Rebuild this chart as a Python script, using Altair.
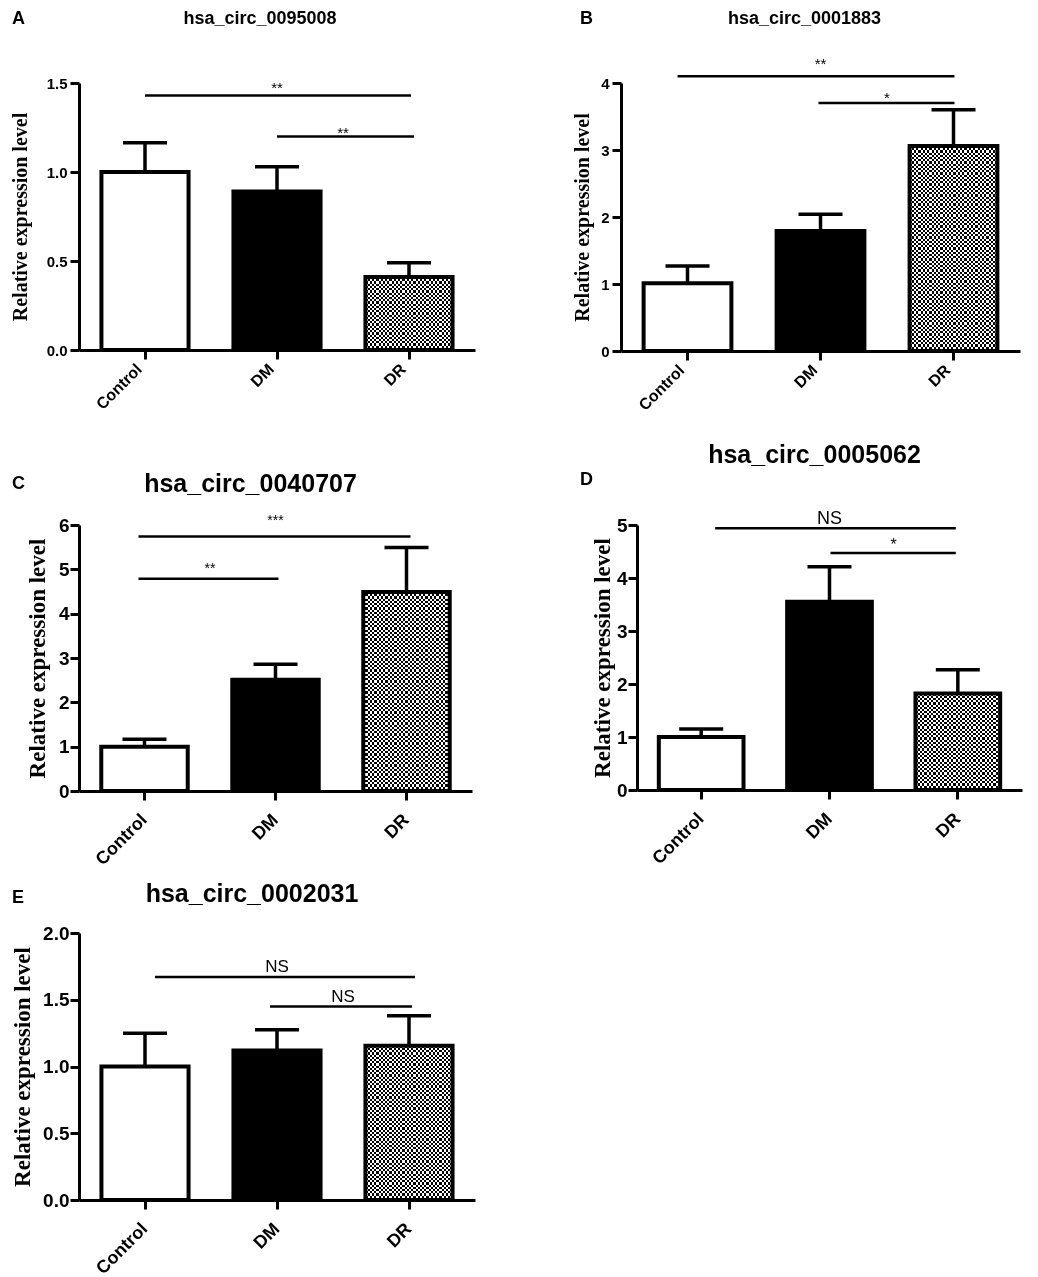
import altair as alt
import pandas as pd

SANS = "Liberation Sans"
SERIF = "Liberation Serif"

categories = ["Control", "DM", "DR"]
panel_letters = ["A", "B", "C", "D", "E"]
panel_titles = ["hsa_circ_0095008", "hsa_circ_0001883", "hsa_circ_0040707",
                "hsa_circ_0005062", "hsa_circ_0002031"]
y_title = "Relative expression level"

# bar heights (mean) and upper error (SEM) per panel
mean_A = [1.00, 0.89, 0.41]
sem_A = [0.165, 0.14, 0.08]
mean_B = [1.01, 1.79, 3.06]
sem_B = [0.26, 0.25, 0.54]
mean_C = [1.00, 2.51, 4.49]
sem_C = [0.17, 0.35, 1.00]
mean_D = [1.00, 3.55, 1.82]
sem_D = [0.15, 0.66, 0.45]
mean_E = [1.00, 1.12, 1.155]
sem_E = [0.25, 0.155, 0.225]

y_max = [1.5, 4, 6, 5, 2.0]
y_ticks_A = [0.0, 0.5, 1.0, 1.5]
y_ticks_B = [0, 1, 2, 3, 4]
y_ticks_C = [0, 1, 2, 3, 4, 5, 6]
y_ticks_D = [0, 1, 2, 3, 4, 5]
y_ticks_E = [0.0, 0.5, 1.0, 1.5, 2.0]
y_formats = [".1f", "d", "d", "d", ".1f"]

# significance brackets
br_from_A = ["Control", "DM"]; br_to_A = ["DR", "DR"]; br_y_A = [1.43, 1.20]; br_lab_A = ["**", "**"]
br_from_B = ["Control", "DM"]; br_to_B = ["DR", "DR"]; br_y_B = [4.10, 3.70]; br_lab_B = ["**", "*"]
br_from_C = ["Control", "Control"]; br_to_C = ["DR", "DM"]; br_y_C = [5.74, 4.79]; br_lab_C = ["***", "**"]
br_from_D = ["Control", "DM"]; br_to_D = ["DR", "DR"]; br_y_D = [4.94, 4.47]; br_lab_D = ["NS", "*"]
br_from_E = ["Control", "DM"]; br_to_E = ["DR", "DR"]; br_y_E = [1.67, 1.45]; br_lab_E = ["NS", "NS"]

# ---------------- styles (pixels) ----------------
styles = [
    dict(w=396, h=267, tfs=18, tdx=-17, tdy=-59, ldx=-67, ldy=-59, lfs=18,
         tick_fs=15, y_tick=9, y_lpad=3, xl_fs=16, xl_base="bottom", xl_pad=13,
         yt_fs=20, yt_pad=16, br_off=[(0, 2), (0, 5)], br_dy=[-2, 2], br_fs=[15, 15]),
    dict(w=399, h=268, tfs=18, tdx=-16, tdy=-59, ldx=-41, ldy=-59, lfs=18,
         tick_fs=15, y_tick=9, y_lpad=3, xl_fs=16, xl_base="bottom", xl_pad=13,
         yt_fs=20, yt_pad=8, br_off=[(-10, 1), (-2, 1)], br_dy=[-7, 0], br_fs=[15, 15]),
    dict(w=393, h=266, tfs=25, tdx=-25, tdy=-33, ldx=-67, ldy=-36, lfs=18,
         tick_fs=19, y_tick=9, y_lpad=1, xl_fs=18, xl_base="middle", xl_pad=17,
         yt_fs=23, yt_pad=9, br_off=[(-6, 4), (-6, 3)], br_dy=[-12, -6], br_fs=[14, 14]),
    dict(w=385, h=265, tfs=25, tdx=-15, tdy=-62, ldx=-57, ldy=-40, lfs=18,
         tick_fs=19, y_tick=9, y_lpad=1, xl_fs=18, xl_base="middle", xl_pad=17,
         yt_fs=23, yt_pad=2, br_off=[(14, -2), (1, -2)], br_dy=[-4, -3], br_fs=[18, 16]),
    dict(w=396, h=267, tfs=25, tdx=-25, tdy=-31, ldx=-67, ldy=-30, lfs=18,
         tick_fs=19, y_tick=9, y_lpad=1, xl_fs=18, xl_base="middle", xl_pad=17,
         yt_fs=23, yt_pad=8, br_off=[(10, 6), (-7, 3)], br_dy=[-5, -4], br_fs=[17, 17]),
]

PAD_INNER = 0.34
CELL = 2.2


def stripes(n, horizontal):
    stops = []
    for k in range(n):
        c = "black" if k % 2 == 0 else "white"
        stops.append({"offset": k / n, "color": c})
        stops.append({"offset": (k + 1) / n, "color": c})
    return {"gradient": "linear", "x1": 0, "y1": 0,
            "x2": 1 if horizontal else 0, "y2": 0 if horizontal else 1,
            "stops": stops}


def panel(idx, means, sems, ticks, bfrom, bto, by, blab):
    st = styles[idx]
    ymax = y_max[idx]
    df = pd.DataFrame({"cat": categories, "mean": means,
                       "top": [m + s for m, s in zip(means, sems)]})
    xscale = alt.Scale(domain=categories, paddingInner=PAD_INNER, paddingOuter=PAD_INNER / 2)
    yscale = alt.Scale(domain=[0, ymax], nice=False, zero=True)

    x_axis = alt.Axis(labelAngle=-45, labelFont=SANS, labelFontSize=st["xl_fs"],
                      labelFontWeight="bold", labelColor="black", tickSize=9, tickWidth=3,
                      tickColor="black", domainWidth=3, domainColor="black",
                      labelPadding=st["xl_pad"], labelAlign="right", labelBaseline=st["xl_base"],
                      grid=False)
    y_axis = alt.Axis(values=ticks, format=y_formats[idx], labelFont=SANS,
                      labelFontSize=st["tick_fs"], labelFontWeight="bold", labelColor="black",
                      tickSize=st["y_tick"], tickWidth=3, tickColor="black", domainWidth=3,
                      domainColor="black", labelPadding=st["y_lpad"], grid=False,
                      titleFont=SERIF, titleFontSize=st["yt_fs"], titleFontWeight="bold",
                      titleColor="black", titlePadding=st["yt_pad"])

    def X(f="cat:N"):
        return alt.X(f, sort=categories, scale=xscale, axis=x_axis, title=None)

    def Y(f="mean:Q"):
        return alt.Y(f, scale=yscale, axis=y_axis, title=y_title)

    base = alt.Chart(df)

    bars = base.transform_filter(alt.datum.cat != "DR").mark_bar(
        stroke="black", strokeWidth=4).encode(
        x=X(), y=Y(),
        fill=alt.condition(alt.datum.cat == "Control", alt.value("white"), alt.value("black")),
    )

    bw = st["w"] / 3 * (1 - PAD_INNER)
    bh = means[2] / ymax * st["h"]
    nv = max(2, int(round(bw / CELL)))
    nh = max(2, int(round(bh / CELL)))
    dr = base.transform_filter(alt.datum.cat == "DR")
    dr_v = dr.mark_bar(fill=stripes(nv, True), strokeWidth=0).encode(x=X(), y=Y())
    dr_h = dr.mark_bar(fill=stripes(nh, False), strokeWidth=0, blend="difference").encode(x=X(), y=Y())
    dr_o = dr.mark_bar(fill="white", fillOpacity=0, stroke="black", strokeWidth=4).encode(x=X(), y=Y())

    stem = base.mark_rule(color="black", strokeWidth=3.5).encode(
        x=X(), y=Y(), y2=alt.Y2("top:Q"))
    cap = base.mark_tick(color="black", size=44, thickness=3.5, orient="horizontal",
                         opacity=1).encode(x=X(), y=Y("top:Q"))

    layers = [bars, dr_v, dr_h, dr_o, stem, cap]

    step = st["w"] / 3
    for k in range(len(bfrom)):
        bdf = pd.DataFrame({"a": [bfrom[k]], "b": [bto[k]], "y": [by[k]], "lab": [blab[k]]})
        o1, o2 = st["br_off"][k]
        rule = alt.Chart(bdf).mark_rule(color="black", strokeWidth=2.5, xOffset=o1, x2Offset=o2).encode(
            x=X("a:N"), x2="b:N", y=Y("y:Q"),
        )
        span = categories.index(bto[k]) - categories.index(bfrom[k])
        txt = alt.Chart(bdf).mark_text(font=SANS, fontSize=st["br_fs"][k], color="black",
                                       baseline="alphabetic", align="center",
                                       dx=span * step / 2, dy=st["br_dy"][k]).encode(
            x=X("a:N"), y=Y("y:Q"), text="lab:N",
        )
        layers += [rule, txt]

    tdf = pd.DataFrame({"t": [panel_titles[idx]], "l": [panel_letters[idx]]})
    title = alt.Chart(tdf).mark_text(font=SANS, fontSize=st["tfs"], fontWeight="bold", color="black",
                                     align="center", baseline="alphabetic").encode(
        text="t:N", x=alt.value(st["w"] / 2 + st["tdx"]), y=alt.value(st["tdy"]))
    letter = alt.Chart(tdf).mark_text(font=SANS, fontSize=st["lfs"], fontWeight="bold", color="black",
                                      align="left", baseline="alphabetic").encode(
        text="l:N", x=alt.value(st["ldx"]), y=alt.value(st["ldy"]))
    layers += [title, letter]

    return alt.layer(*layers).properties(width=st["w"], height=st["h"])


pA = panel(0, mean_A, sem_A, y_ticks_A, br_from_A, br_to_A, br_y_A, br_lab_A)
pB = panel(1, mean_B, sem_B, y_ticks_B, br_from_B, br_to_B, br_y_B, br_lab_B)
pC = panel(2, mean_C, sem_C, y_ticks_C, br_from_C, br_to_C, br_y_C, br_lab_C)
pD = panel(3, mean_D, sem_D, y_ticks_D, br_from_D, br_to_D, br_y_D, br_lab_D)
pE = panel(4, mean_E, sem_E, y_ticks_E, br_from_E, br_to_E, br_y_E, br_lab_E)

row1 = alt.hconcat(pA, pB, spacing=146, bounds="flush")
row2 = alt.hconcat(pC, pD, spacing=165, bounds="flush")
top = alt.vconcat(row1, row2, spacing=29)
chart = alt.vconcat(top, pE, spacing=13).properties(
    padding={"left": 2, "top": 2, "right": 4, "bottom": 4}
).configure(background="white").configure_view(strokeOpacity=0, strokeWidth=0)

chart.save("out.html", embed_options={"renderer": "svg", "actions": False})
